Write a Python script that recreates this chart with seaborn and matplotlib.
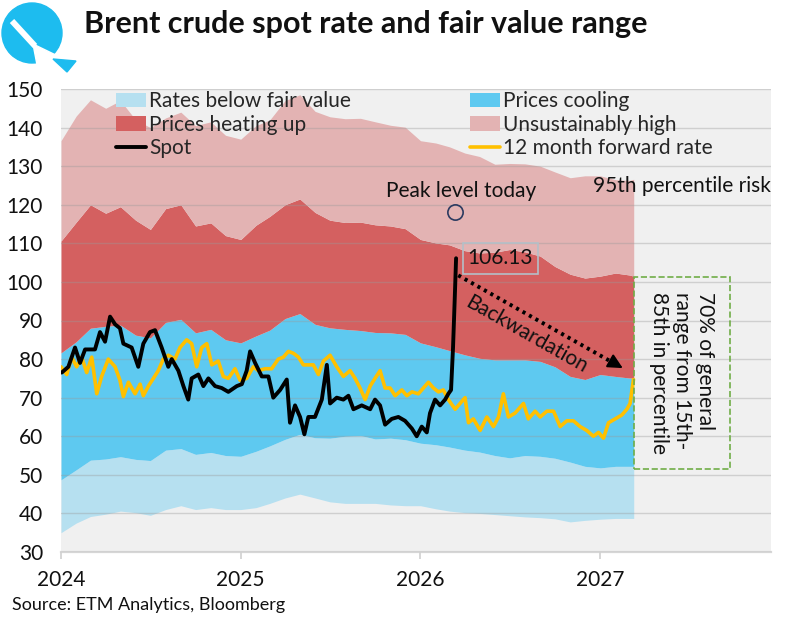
import numpy as np
import pandas as pd
import matplotlib
matplotlib.use('Agg')
import matplotlib.pyplot as plt
import seaborn as sns
from matplotlib.patches import Rectangle, Circle, Polygon

# fair value percentile bands (USD/bbl), monthly Jan-2024 .. Mar-2027, last point = end of projection
band_dates = list(pd.date_range('2024-01-01', '2027-03-01', freq='MS')) + [pd.Timestamp('2027-03-10')]
p5 = [35, 37.5, 39.2, 39.8, 40.6, 40.2, 39.5, 41, 42, 41, 41.5, 41, 41, 41.5, 42.6, 44, 45, 44, 43, 42.6,
      42.6, 42.6, 42.2, 42, 42, 41.2, 40.6, 40.2, 40, 39.7, 39.4, 39.1, 38.9, 38.6, 37.8, 38.2, 38.5, 38.7, 38.7, 38.7]
p15 = [48.7, 51.3, 53.8, 54.1, 54.7, 54, 53.7, 56.4, 56.8, 55.3, 55.8, 55, 54.8, 56.1, 57.5, 59.2, 60.5, 59.6, 59.5, 60,
       60.2, 59.3, 59.5, 59.1, 58.2, 57.8, 57.2, 56.4, 55.9, 55, 54.4, 55, 54.8, 54.3, 53.3, 52.2, 51.8, 52.2, 52.2, 52.2]
p85 = [81.6, 84.5, 88, 88.5, 88.8, 86.2, 85.5, 89.5, 90.3, 86.8, 87.7, 85, 84.2, 86, 87.5, 90.5, 91.8, 89, 88.1, 87.7,
       87.4, 86.9, 86.8, 86.4, 84.2, 83.2, 82.2, 81.1, 80.2, 79.8, 79.8, 79.8, 79.4, 78, 75.5, 74.7, 76, 75.5, 75.1, 75.1]
p95 = [110.6, 115.5, 120, 117.8, 119.5, 116, 113.6, 119, 120, 114.5, 115.3, 112, 111, 114.7, 117, 120, 121.5, 118, 116, 115.4,
       115.5, 114.8, 114.5, 113.8, 111, 110.1, 109.6, 108.1, 107.5, 107.7, 108.4, 107.8, 106.7, 104, 102, 101, 101.5, 102.3, 101.8, 101.5]
p99 = [136.6, 143, 147.2, 145, 147, 142, 140, 142.5, 144, 140.5, 141.5, 138, 137, 140.5, 142, 147, 148.5, 144.2, 142.8, 142.3,
       142.4, 141.5, 140.6, 140.1, 136.6, 136, 135, 133.4, 132.5, 130.5, 130.7, 130.6, 130, 128.5, 127, 127.5, 127.5, 126.5, 126.3, 126.6]

# spot (decimal year, USD/bbl)
spot_t = [2024.004, 2024.041, 2024.078, 2024.106, 2024.134, 2024.189, 2024.217, 2024.245, 2024.273, 2024.301,
          2024.328, 2024.347, 2024.393, 2024.430, 2024.458, 2024.495, 2024.523, 2024.560, 2024.597, 2024.616,
          2024.653, 2024.681, 2024.708, 2024.727, 2024.764, 2024.792, 2024.820, 2024.857, 2024.894, 2024.931,
          2024.978, 2025.006, 2025.033, 2025.052, 2025.080, 2025.117, 2025.154, 2025.181, 2025.219, 2025.256,
          2025.274, 2025.302, 2025.330, 2025.354, 2025.376, 2025.413, 2025.451, 2025.479, 2025.497, 2025.534,
          2025.571, 2025.599, 2025.627, 2025.673, 2025.720, 2025.747, 2025.775, 2025.803, 2025.840, 2025.877,
          2025.914, 2025.952, 2025.979, 2026.007, 2026.035, 2026.053, 2026.081, 2026.109, 2026.137, 2026.155,
          2026.170, 2026.181, 2026.190, 2026.198]
spot_v = [76.5, 78, 83, 79, 82.5, 82.5, 87, 84.5, 91, 89,
          88, 84, 83, 78, 84, 87, 87.5, 83, 78, 80,
          77, 73, 69.5, 75, 76, 73, 75, 73, 72.5, 71.5,
          73, 73.5, 77, 82, 79, 75.5, 75.5, 70, 72, 74.7,
          63.5, 68, 65, 60.5, 65, 65, 69.5, 78.5, 68.5, 70,
          69.5, 70.5, 67, 68, 67, 69.5, 68, 63, 64.5, 65,
          64, 62, 60, 62.5, 61, 66, 69.5, 68, 69.5, 71,
          72, 83, 95, 106.13]

# 12 month forward rate
fwd_t = [2024.000, 2024.032, 2024.059, 2024.087, 2024.115, 2024.143, 2024.171, 2024.199, 2024.226, 2024.263,
         2024.301, 2024.328, 2024.347, 2024.375, 2024.412, 2024.440, 2024.458, 2024.486, 2024.514, 2024.541,
         2024.569, 2024.597, 2024.634, 2024.662, 2024.699, 2024.727, 2024.755, 2024.783, 2024.811, 2024.839,
         2024.875, 2024.903, 2024.931, 2024.968, 2024.996, 2025.033, 2025.070, 2025.098, 2025.135, 2025.172,
         2025.209, 2025.237, 2025.265, 2025.293, 2025.321, 2025.348, 2025.376, 2025.404, 2025.432, 2025.460,
         2025.497, 2025.534, 2025.571, 2025.608, 2025.636, 2025.664, 2025.692, 2025.720, 2025.747, 2025.775,
         2025.803, 2025.831, 2025.859, 2025.896, 2025.924, 2025.952, 2025.988, 2026.016, 2026.044, 2026.072,
         2026.100, 2026.127, 2026.155, 2026.193, 2026.220, 2026.248, 2026.267, 2026.294, 2026.332, 2026.369,
         2026.406, 2026.434, 2026.461, 2026.489, 2026.526, 2026.573, 2026.600, 2026.638, 2026.666, 2026.703,
         2026.740, 2026.777, 2026.814, 2026.851, 2026.888, 2026.925, 2026.962, 2026.990, 2027.018, 2027.046,
         2027.083, 2027.120, 2027.148, 2027.166, 2027.185]
fwd_v = [78, 76, 80.5, 78, 80.5, 76.5, 80.5, 71, 75.5, 80,
         78, 74.5, 70.3, 74, 71, 73.5, 70.5, 73, 75, 77,
         80, 81, 80, 83, 85, 84, 78, 83, 84, 78.5,
         79.5, 75.5, 75, 77.5, 74.5, 75, 78, 77, 77.5, 77.5,
         80, 80.5, 82, 81.5, 80.5, 78.5, 78.5, 78.5, 76, 79.5,
         81, 78, 75.5, 77, 75, 72.5, 69.5, 73, 75, 77,
         72.5, 72.5, 70.5, 72, 70.5, 71.5, 71, 72.5, 74, 72.5,
         71.5, 72, 69.5, 67, 68.5, 70, 63.5, 64.5, 61.5, 65,
         62.5, 65, 71, 65, 66, 68.5, 64.5, 66.5, 65, 66.5,
         66.5, 62.5, 64, 64, 62.5, 61.5, 60, 61, 59.5, 63.5,
         64.5, 65.5, 67, 68.5, 74.7]

year_ticks = [2024, 2025, 2026, 2027]


def dec_year(ts):
    return ts.year + (ts.dayofyear - 1) / (366 if ts.is_leap_year else 365)


band_x = np.array([dec_year(d) for d in band_dates])

sns.set_theme(style='white')
plt.rcParams['font.family'] = ['Lato', 'DejaVu Sans']

c_light = '#b6e0f0'
c_cool = '#5ec9f0'
c_heat = '#d46060'
c_high = '#e3b3b3'
fs = 15

fig = plt.figure(figsize=(8.01, 6.25), dpi=100)
ax = fig.add_axes([61 / 801, 1 - 552 / 625, 710 / 801, 463 / 625])
ax.set_facecolor('#f0f0f0')

ax.fill_between(band_x, p5, p15, color=c_light, lw=0, label='Rates below fair value')
ax.fill_between(band_x, p15, p85, color=c_cool, lw=0, label='Prices cooling')
ax.fill_between(band_x, p85, p95, color=c_heat, lw=0, label='Prices heating up')
ax.fill_between(band_x, p95, p99, color=c_high, lw=0, label='Unsustainably high')

sns.lineplot(x=fwd_t, y=fwd_v, ax=ax, color='#ffc000', lw=2.6, label='12 month forward rate', zorder=4)
sns.lineplot(x=spot_t, y=spot_v, ax=ax, color='black', lw=2.8, label='Spot', zorder=5)

ax.set_xlim(2024, 2027.95)
ax.set_ylim(30, 150)
ax.set_yticks(range(30, 151, 10))
ax.set_xticks(year_ticks)
ax.set_xticklabels([str(y) for y in year_ticks])
ax.grid(axis='y', color='#9a9a9a', alpha=0.38, lw=1)
ax.set_axisbelow(False)
for s in ['top', 'left', 'right']:
    ax.spines[s].set_visible(False)
ax.spines['bottom'].set_color('#d6d6d6')
ax.spines['bottom'].set_linewidth(1.6)
ax.tick_params(axis='y', length=0, pad=13, labelsize=fs, labelcolor='#111111')
ax.tick_params(axis='x', length=5, width=1.2, color='#d0d0d0', pad=8, labelsize=fs,
               labelcolor='#111111', bottom=True, direction='out')
ax.set_xlabel('')
ax.set_ylabel('')

# annotations
ax.text(2026.226, 123.5, 'Peak level today', ha='center', va='center', fontsize=fs, color='#111111')
ax.plot([2026.193], [118], 'o', mfc='none', mec='#2b3a60', ms=11, mew=1.2, zorder=6)
ax.text(2026.957, 124.8, '95th percentile risk', ha='left', va='center', fontsize=fs, color='#111111')
ax.text(2026.445, 106.1, '106.13', ha='center', va='center', fontsize=fs, color='#111111', zorder=7,
        bbox=dict(boxstyle='square,pad=0.25', fc='none', ec='#b4c0c8', lw=1.2))
ax.plot([2026.21, 2027.10], [101.7, 78.3], color='black', lw=2.8, ls=(0, (0.8, 1.1)), zorder=6)
ax.annotate('', xy=(2027.139, 77.3), xytext=(2027.06, 79.4),
            arrowprops=dict(arrowstyle='-|>', color='black', lw=1.5, mutation_scale=22), zorder=6)
ax.text(2026.59, 86.4, 'Backwardation', ha='center', va='center', fontsize=fs, color='#111111',
        rotation=-29.5, rotation_mode='anchor')
ax.add_patch(Rectangle((2027.19, 51.6), 0.533, 49.8, fill=False, ec='#70ad47', ls='--', lw=1.2, zorder=6))
ax.text(2027.456, 76.5, '70% of general\nrange from 15th-\n85th in percentile', rotation=270,
        ha='center', va='center', fontsize=fs, color='#111111', linespacing=1.18, multialignment='left')

# legend
h, l = ax.get_legend_handles_labels()
order = ['Rates below fair value', 'Prices heating up', 'Spot',
         'Prices cooling', 'Unsustainably high', '12 month forward rate']
hd = dict(zip(l, h))
ax.legend([hd[k] for k in order], order, ncol=2, loc='upper left', bbox_to_anchor=(0.074, 1.0),
          frameon=False, fontsize=fs, handlelength=1.45, handletextpad=0.15, labelspacing=0.17,
          columnspacing=5.7, borderpad=0.1, borderaxespad=0)

# title, source
fig.text(84 / 801, 1 - 24 / 625, 'Brent crude spot rate and fair value range', ha='left', va='center',
         fontsize=22, fontweight='bold', color='#111111')
fig.text(12 / 801, 1 - 605 / 625, 'Source: ETM Analytics, Bloomberg', ha='left', va='center',
         fontsize=13, color='#111111')

# logo
lax = fig.add_axes([0, 1 - 80 / 625, 90 / 801, 80 / 625])
lax.set_xlim(0, 90)
lax.set_ylim(80, 0)
lax.axis('off')
cyan = '#1dbcef'
lax.add_patch(Circle((32, 33), 30, color=cyan))
lax.add_patch(Polygon([(33, 44), (38, 70), (66, 60)], closed=True, color='white'))
lax.plot([12, 35], [21, 46], color='white', lw=4.3, solid_capstyle='butt')
lax.add_patch(Polygon([(53, 59), (76, 61), (67, 72)], closed=True, color=cyan))

fig.savefig('out.png', dpi=100)
